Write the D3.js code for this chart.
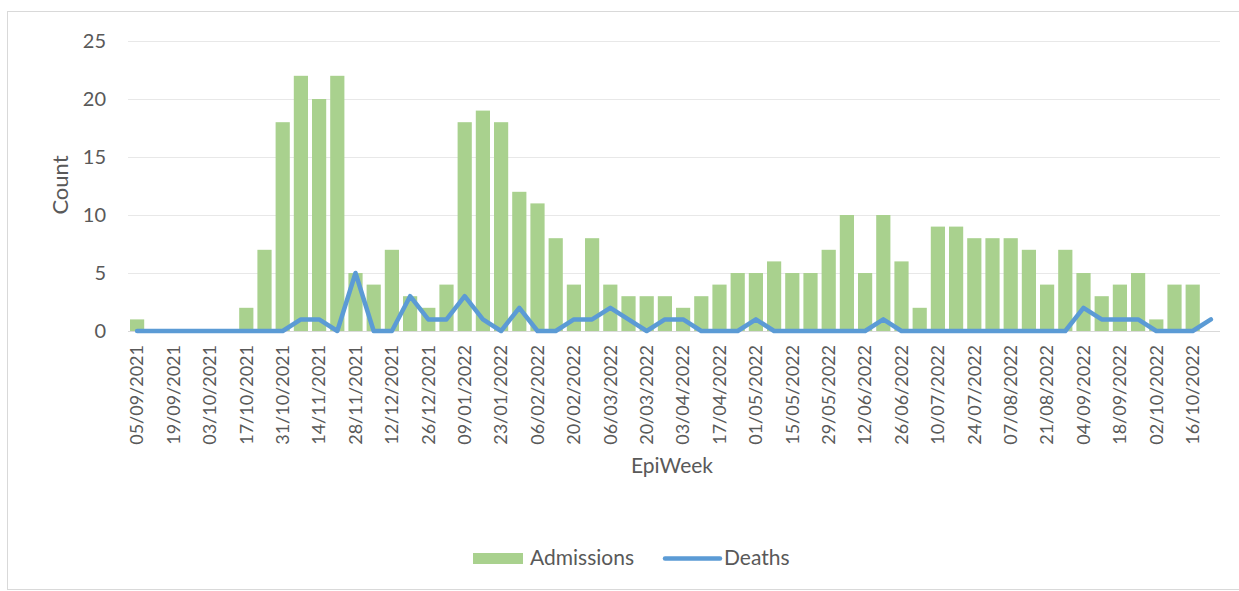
<!DOCTYPE html>
<html>
<head>
<meta charset="utf-8">
<script src="https://cdn.jsdelivr.net/npm/d3@7"></script>
<style>
  body { margin: 0; background: #fff; }
  text { font-family: Lato, "Open Sans", sans-serif; fill: #595959; }
</style>
</head>
<body>
<script>
// weekly epiweek start dates
var weeks = [
  "05/09/2021", "12/09/2021", "19/09/2021", "26/09/2021", "03/10/2021", "10/10/2021",
  "17/10/2021", "24/10/2021", "31/10/2021", "07/11/2021", "14/11/2021", "21/11/2021",
  "28/11/2021", "05/12/2021", "12/12/2021", "19/12/2021", "26/12/2021", "02/01/2022",
  "09/01/2022", "16/01/2022", "23/01/2022", "30/01/2022", "06/02/2022", "13/02/2022",
  "20/02/2022", "27/02/2022", "06/03/2022", "13/03/2022", "20/03/2022", "27/03/2022",
  "03/04/2022", "10/04/2022", "17/04/2022", "24/04/2022", "01/05/2022", "08/05/2022",
  "15/05/2022", "22/05/2022", "29/05/2022", "05/06/2022", "12/06/2022", "19/06/2022",
  "26/06/2022", "03/07/2022", "10/07/2022", "17/07/2022", "24/07/2022", "31/07/2022",
  "07/08/2022", "14/08/2022", "21/08/2022", "28/08/2022", "04/09/2022", "11/09/2022",
  "18/09/2022", "25/09/2022", "02/10/2022", "09/10/2022", "16/10/2022", "23/10/2022"
]

var admissions = [
  1, 0, 0, 0, 0, 0, 2, 7, 18, 22,
  20, 22, 5, 4, 7, 3, 2, 4, 18, 19,
  18, 12, 11, 8, 4, 8, 4, 3, 3, 3,
  2, 3, 4, 5, 5, 6, 5, 5, 7, 10,
  5, 10, 6, 2, 9, 9, 8, 8, 8, 7,
  4, 7, 5, 3, 4, 5, 1, 4, 4, 0
]

var deaths = [
  0, 0, 0, 0, 0, 0, 0, 0, 0, 1,
  1, 0, 5, 0, 0, 3, 1, 1, 3, 1,
  0, 2, 0, 0, 1, 1, 2, 1, 0, 1,
  1, 0, 0, 0, 1, 0, 0, 0, 0, 0,
  0, 1, 0, 0, 0, 0, 0, 0, 0, 0,
  0, 0, 2, 1, 1, 1, 0, 0, 0, 1
]

var yTicks = [0, 5, 10, 15, 20, 25]

var width = 1239
var height = 591

// plot area edges
var plotLeft = 128, plotRight = 1220, plotTop = 41, plotBottom = 331

var svg = d3.select("body")
    .append("svg")
    .attr("width", width)
    .attr("height", height)

// outer chart border
svg.append("rect")
    .attr("x", 7.5)
    .attr("y", 11.5)
    .attr("width", 1240)
    .attr("height", 578)
    .attr("fill", "none")
    .attr("stroke", "#d9d9d9")

var xScale = d3.scaleBand()
    .domain(weeks)
    .range([plotLeft, plotRight])
    .paddingInner(0.22)
    .paddingOuter(0.11)

var yScale = d3.scaleLinear()
    .domain([0, 25])
    .range([plotBottom, plotTop])

// gridlines
svg.append("g")
    .selectAll("line")
    .data(yTicks.slice(1))
    .enter()
    .append("line")
    .attr("x1", plotLeft)
    .attr("x2", plotRight)
    .attr("y1", d => yScale(d) + 0.5)
    .attr("y2", d => yScale(d) + 0.5)
    .attr("stroke", "#e8e8e8")
    .attr("stroke-width", 1.2)

// y axis labels
var yAxis = d3.axisLeft(yScale).tickValues(yTicks).tickSize(0).tickPadding(22)
svg.append("g")
    .attr("transform", "translate(" + plotLeft + ",0)")
    .call(yAxis)
    .call(g => g.select(".domain").remove())
    .selectAll("text")
    .style("font-size", "20px")
    .style("font-family", "Lato, sans-serif")
    .attr("fill", "#595959")

// bars
svg.append("g")
    .selectAll("rect")
    .data(admissions)
    .enter()
    .append("rect")
    .attr("x", (d, i) => xScale(weeks[i]))
    .attr("y", d => yScale(d))
    .attr("width", xScale.bandwidth())
    .attr("height", d => plotBottom - yScale(d))
    .attr("fill", "#a9d18e")

// baseline
svg.append("line")
    .attr("x1", plotLeft)
    .attr("x2", plotRight)
    .attr("y1", plotBottom + 0.5)
    .attr("y2", plotBottom + 0.5)
    .attr("stroke", "#d9d9d9")

// deaths line
var line = d3.line()
    .x((d, i) => xScale(weeks[i]) + xScale.bandwidth() / 2)
    .y(d => yScale(d))

svg.append("path")
    .datum(deaths)
    .attr("d", line)
    .attr("fill", "none")
    .attr("stroke", "#5b9bd5")
    .attr("stroke-width", 4.5)
    .attr("stroke-linejoin", "round")
    .attr("stroke-linecap", "round")

// x axis labels (every other week)
var xAxis = d3.axisBottom(xScale)
    .tickValues(weeks.filter((d, i) => i % 2 == 0))
    .tickSize(0)
svg.append("g")
    .attr("transform", "translate(0," + plotBottom + ")")
    .call(xAxis)
    .call(g => g.select(".domain").remove())
    .selectAll("text")
    .style("font-size", "18px")
    .style("font-family", "Lato, sans-serif")
    .attr("fill", "#595959")
    .attr("text-anchor", "end")
    .attr("transform", "rotate(-90)")
    .attr("x", -14)
    .attr("y", 0)
    .attr("dy", "0.35em")

// axis titles
svg.append("text")
    .attr("transform", "translate(68,185) rotate(-90)")
    .attr("text-anchor", "middle")
    .style("font-size", "22px")
    .text("Count")

svg.append("text")
    .attr("x", 672)
    .attr("y", 473)
    .attr("text-anchor", "middle")
    .style("font-size", "21px")
    .text("EpiWeek")

// legend
var legend = svg.append("g")
legend.append("rect")
    .attr("x", 473)
    .attr("y", 553)
    .attr("width", 50)
    .attr("height", 11)
    .attr("fill", "#a9d18e")
legend.append("text")
    .attr("x", 530)
    .attr("y", 565)
    .style("font-size", "21px")
    .text("Admissions")
legend.append("line")
    .attr("x1", 665)
    .attr("x2", 720)
    .attr("y1", 558.5)
    .attr("y2", 558.5)
    .attr("stroke", "#5b9bd5")
    .attr("stroke-width", 4.5)
    .attr("stroke-linecap", "round")
legend.append("text")
    .attr("x", 724)
    .attr("y", 565)
    .style("font-size", "21px")
    .text("Deaths")
</script>
</body>
</html>
